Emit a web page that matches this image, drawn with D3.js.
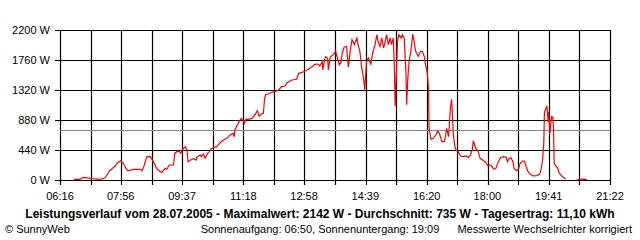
<!DOCTYPE html>
<html>
<head>
<meta charset="utf-8">
<script src="https://cdn.jsdelivr.net/npm/d3@7/dist/d3.min.js"></script>
<style>
  body { margin: 0; background: #fff; }
  text { font-family: "Liberation Sans", Arial, sans-serif; fill: #000; }
</style>
</head>
<body>
<svg id="chart" width="640" height="240"></svg>
<script>
// measured values (time of day, watts); null = no data
var times = ["06:39","06:49","06:54","07:09","07:22","07:30","07:38","07:47","07:50","07:56",
  "08:00","08:05","08:08","08:17","08:28","08:31","08:34","08:39","08:45","08:50",
  "08:55","09:01","09:04","09:09","09:12","09:16","09:23","09:25","09:28","09:33",
  "09:35","09:38","09:42","09:45","09:47","09:51","09:56","10:00","10:02","10:07",
  "10:09","10:12","10:15","10:19","10:22","10:26","10:30","10:34","10:40","10:45",
  "10:51","10:56","11:01","11:03","11:04","11:08","11:12","11:15","11:20","11:22",
  "11:26","11:32","11:37","11:41","11:44","11:48","11:51","11:53","11:55","11:59",
  "12:05","12:10","12:16","12:21","12:27","12:30","12:38","12:46","12:49","12:54",
  "13:00","13:05","13:11","13:16","13:21","13:24","13:28","13:29","13:32","13:34",
  "13:37","13:38","13:41","13:46","13:50","13:53","13:56","13:59","14:01","14:04",
  "14:08","14:11","14:14","14:17","14:21","14:25","14:27","14:30","14:33","14:36",
  "14:38","14:41","14:44","14:48","14:51","14:55","14:58","15:00","15:03","15:06",
  "15:09","15:11","15:14","15:17","15:20","15:22","15:25","15:27","15:28","15:30",
  "15:32","15:34","15:38","15:40","15:43","15:46","15:47","15:49","15:51","15:54",
  "15:57","16:00","16:02","16:06","16:10","16:13","16:16","16:19","16:21","16:23",
  "16:24","16:27","16:31","16:35","16:38","16:41","16:45","16:49","16:51","16:53",
  "16:56","16:57","16:59","17:01","17:02","17:04","17:06","17:08","17:12","17:16",
  "17:20","17:25","17:29","17:32","17:35","17:37","17:38","17:41","17:45","17:48",
  "17:52","17:56","17:59","18:01","18:04","18:07","18:11","18:14","18:18","18:22",
  "18:26","18:31","18:33","18:36","18:39","18:42","18:44","18:48","18:51","18:54",
  "18:58","19:01","19:04","19:07","19:11","19:16","19:21","19:26","19:28","19:31",
  "19:33","19:34","19:36","19:38","19:39","19:40","19:41","19:43","19:44","19:46",
  "19:48","19:49","19:50","19:53","19:56","19:58","20:01","20:05","20:09","20:20",
  "20:28","20:44"];
var watts = [10,10,39,20,10,29,136,205,245,283,
  245,166,136,157,157,136,195,342,342,268,
  171,122,112,171,157,220,220,391,415,415,
  391,450,489,450,268,293,313,293,342,367,
  340,381,318,391,415,464,479,489,547,587,
  611,660,684,635,733,807,870,904,831,890,
  890,904,953,1017,939,968,978,1198,1257,1261,
  1286,1295,1320,1369,1379,1427,1467,1477,1565,1574,
  1603,1623,1662,1697,1701,1672,1735,1613,1770,1809,
  1779,1613,1799,1838,1887,1789,1691,1731,1863,1946,
  1961,1653,1887,2058,1985,2083,1985,1887,1643,1496,
  1325,1740,1789,1691,1863,1985,2131,2034,1961,2083,
  1936,2009,2131,1985,2083,1985,2083,1594,1081,1545,
  2034,2131,2083,2131,2083,1545,1105,1496,1740,1887,
  2142,1985,1887,1814,1887,1887,1814,1653,1569,1349,
  758,597,611,660,719,684,562,562,645,758,
  636,758,1037,1183,1027,660,513,440,415,352,
  342,352,327,367,440,577,538,464,415,318,
  293,268,235,205,220,205,157,171,268,327,
  342,333,268,318,327,268,171,136,157,245,
  279,279,195,122,83,59,64,83,136,293,
  562,987,1037,1085,1002,855,1002,684,782,929,
  919,733,245,205,171,107,73,39,15,null,
  10,10];

var yTicks = [0, 440, 880, 1320, 1760, 2200];
var xTickLabels = ["06:16","07:56","09:37","11:18","12:58","14:39","16:20","18:00","19:41","21:22"];
var average = 735;

var titleText = "Leistungsverlauf vom 28.07.2005 - Maximalwert: 2142 W - Durchschnitt: 735 W - Tagesertrag: 11,10 kWh";
var footLeft = "\u00a9 SunnyWeb";
var footMid = "Sonnenaufgang: 06:50, Sonnenuntergang: 19:09";
var footRight = "Messwerte Wechselrichter korrigiert";

function toMin(s) {
    var p = s.split(":");
    return +p[0] * 60 + +p[1];
}

var margin = { top: 30, right: 30, bottom: 60, left: 60 },
    width = 640 - margin.left - margin.right,
    height = 240 - margin.top - margin.bottom;

var svg = d3.select("#chart");
var g = svg.append("g")
    .attr("transform", "translate(" + margin.left + "," + margin.top + ")");

var x = d3.scaleLinear()
    .domain([toMin(xTickLabels[0]), toMin(xTickLabels[xTickLabels.length - 1])])
    .range([0, width]);

var y = d3.scaleLinear()
    .domain([0, 2200])
    .range([height, 0]);

// vertical grid lines: every half of a labelled step
var step = (x.domain()[1] - x.domain()[0]) / 18;
var vGrid = d3.range(19).map(function (i) { return x.domain()[0] + i * step; });

g.selectAll(".vgrid")
    .data(vGrid)
    .enter().append("line")
    .attr("class", "vgrid")
    .attr("x1", function (d) { return Math.round(x(d)) + 0.5; })
    .attr("x2", function (d) { return Math.round(x(d)) + 0.5; })
    .attr("y1", 0)
    .attr("y2", height + 5)
    .attr("stroke", "#000")
    .attr("stroke-width", 1.2);

g.selectAll(".hgrid")
    .data(yTicks)
    .enter().append("line")
    .attr("class", "hgrid")
    .attr("x1", -5)
    .attr("x2", width)
    .attr("y1", function (d) { return Math.round(y(d)) + 0.5; })
    .attr("y2", function (d) { return Math.round(y(d)) + 0.5; })
    .attr("stroke", "#000")
    .attr("stroke-width", 1.2);

// y labels
g.selectAll(".ylab")
    .data(yTicks)
    .enter().append("text")
    .attr("class", "ylab")
    .attr("x", -10)
    .attr("y", function (d) { return y(d); })
    .attr("dy", "0.35em")
    .attr("text-anchor", "end")
    .style("font-size", "11px")
    .text(function (d) { return d + " W"; });

// x labels
g.selectAll(".xlab")
    .data(xTickLabels)
    .enter().append("text")
    .attr("class", "xlab")
    .attr("x", function (d) { return x(toMin(d)); })
    .attr("y", height + 20)
    .attr("text-anchor", "middle")
    .style("font-size", "11px")
    .text(function (d) { return d; });

// average line
g.append("line")
    .attr("x1", 0)
    .attr("x2", width)
    .attr("y1", Math.round(y(average)) + 0.5)
    .attr("y2", Math.round(y(average)) + 0.5)
    .attr("stroke", "#888")
    .attr("stroke-width", 1.2);

// power curve
var data = times.map(function (t, i) { return { t: toMin(t), w: watts[i] }; });
var line = d3.line()
    .defined(function (d) { return d.w !== null; })
    .x(function (d) { return x(d.t); })
    .y(function (d) { return y(d.w); });

g.append("path")
    .datum(data)
    .attr("fill", "none")
    .attr("stroke", "#ff0000")
    .attr("stroke-width", 1.2)
    .attr("d", line);

// texts below
svg.append("text")
    .attr("x", 320)
    .attr("y", 218)
    .attr("text-anchor", "middle")
    .style("font-size", "12px")
    .style("font-weight", "bold")
    .text(titleText);

svg.append("text")
    .attr("x", 5)
    .attr("y", 233)
    .style("font-size", "11px")
    .text(footLeft);

svg.append("text")
    .attr("x", 320)
    .attr("y", 233)
    .attr("text-anchor", "middle")
    .style("font-size", "11px")
    .text(footMid);

svg.append("text")
    .attr("x", 632)
    .attr("y", 233)
    .attr("text-anchor", "end")
    .style("font-size", "11px")
    .text(footRight);
</script>
</body>
</html>
